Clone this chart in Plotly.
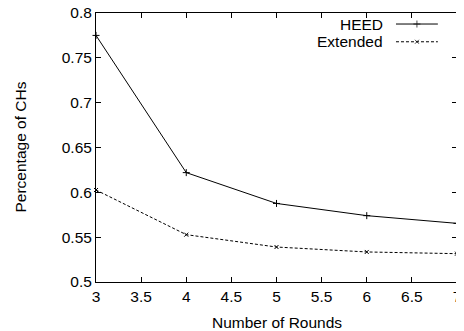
import plotly.graph_objects as go

rounds = [3, 4, 5, 6, 7]
heed = [0.775, 0.622, 0.5876, 0.574, 0.5654]
extended = [0.6026, 0.5528, 0.539, 0.5335, 0.5316]

x_ticks = [3, 3.5, 4, 4.5, 5, 5.5, 6, 6.5, 7]
x_ticktext = ["3", "3.5", "4", "4.5", "5", "5.5", "6", "6.5", "7"]
y_ticks = [0.5, 0.55, 0.6, 0.65, 0.7, 0.75, 0.8]
y_ticktext = ["0.5", "0.55", "0.6", "0.65", "0.7", "0.75", "0.8"]

series_names = ["HEED", "Extended"]
x_title = "Number of Rounds"
y_title = "Percentage of CHs"

FONT = "Liberation Sans, Arial, Helvetica, sans-serif"
FS = 15.5

fig = go.Figure()
fig.add_trace(go.Scatter(
    x=rounds, y=heed, mode="lines+markers", name=series_names[0],
    line=dict(color="black", width=1),
    marker=dict(symbol="cross-thin", size=5, line=dict(color="black", width=1)),
    showlegend=False, cliponaxis=False))
fig.add_trace(go.Scatter(
    x=rounds, y=extended, mode="lines+markers", name=series_names[1],
    line=dict(color="black", width=1, dash="3px,2px"),
    marker=dict(symbol="x-thin", size=4, line=dict(color="black", width=1)),
    showlegend=False, cliponaxis=False))

# legend samples on an overlay axis (0..1 over the plot area)
leg_x = [0.831, 0.889, 0.947]
leg_y = [0.959, 0.893]
fig.add_trace(go.Scatter(
    x=leg_x, y=[leg_y[0]] * 3, xaxis="x2", yaxis="y2", mode="lines+markers",
    line=dict(color="black", width=1),
    marker=dict(symbol="cross-thin", size=[0, 5, 0], line=dict(color="black", width=1)),
    showlegend=False, hoverinfo="skip"))
fig.add_trace(go.Scatter(
    x=leg_x, y=[leg_y[1]] * 3, xaxis="x2", yaxis="y2", mode="lines+markers",
    line=dict(color="black", width=1, dash="3px,2px"),
    marker=dict(symbol="x-thin", size=[0, 4, 0], line=dict(color="black", width=1)),
    showlegend=False, hoverinfo="skip"))

for name, yy in zip(series_names, leg_y):
    fig.add_annotation(x=0.8006, y=yy, xref="paper", yref="paper", text=name,
                       showarrow=False, xanchor="right", yanchor="middle",
                       font=dict(family=FONT, size=FS, color="black"))

fig.add_annotation(x=0.5, y=0, xref="paper", yref="paper", text=x_title,
                   showarrow=False, xanchor="center", yanchor="middle", yshift=-40,
                   font=dict(family=FONT, size=FS, color="black"))
fig.add_annotation(x=0, y=0.5, xref="paper", yref="paper", text=y_title,
                   showarrow=False, xanchor="center", yanchor="middle", xshift=-76,
                   textangle=-90, font=dict(family=FONT, size=FS, color="black"))

axis_common = dict(showgrid=False, zeroline=False, showline=True, linecolor="black",
                   linewidth=1, mirror="ticks", ticks="inside", ticklen=5,
                   tickcolor="black", tickwidth=1, ticklabeloverflow="allow",
                   automargin=False,
                   tickfont=dict(family=FONT, size=FS, color="black"))

fig.update_layout(
    width=456, height=323,
    margin=dict(l=88, r=7, t=5, b=49),
    paper_bgcolor="white", plot_bgcolor="white",
    font=dict(family=FONT, size=FS, color="black"),
    xaxis=dict(range=[3, 7], tickvals=x_ticks, ticktext=x_ticktext, **axis_common),
    yaxis=dict(range=[0.5, 0.8], tickvals=y_ticks, ticktext=y_ticktext, **axis_common),
    xaxis2=dict(overlaying="x", range=[0, 1], visible=False),
    yaxis2=dict(overlaying="y", range=[0, 1], visible=False),
)

fig.write_html("out.html")
